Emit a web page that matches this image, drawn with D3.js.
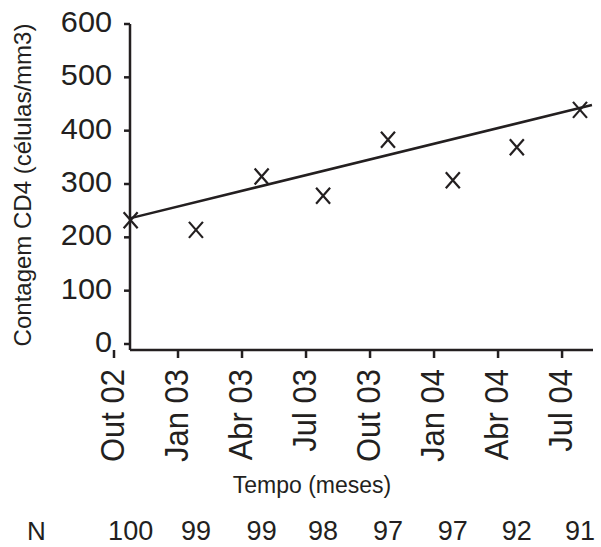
<!DOCTYPE html>
<html>
<head>
<meta charset="utf-8">
<script src="https://cdn.jsdelivr.net/npm/d3@7"></script>
<style>
  body { margin: 0; background: #fff; }
  text { font-family: "Liberation Sans", Arial, sans-serif; fill: #231f20; }
</style>
</head>
<body>
<svg id="chart" width="601" height="547"></svg>
<script>
// tick labels (months since Oct 2002)
const tickMonths = [0, 3, 6, 9, 12, 15, 18, 21];
const tickLabels = ['Out 02', 'Jan 03', 'Abr 03', 'Jul 03', 'Out 03', 'Jan 04', 'Abr 04', 'Jul 04'];
const yTicks = [0, 100, 200, 300, 400, 500, 600];

// measurements
const visitMonths = [0.78, 3.84, 6.92, 9.8, 12.84, 15.88, 18.88, 21.84];
const cd4Values = [232, 214, 314, 278, 383, 307, 369, 439];
const nValues = [100, 99, 99, 98, 97, 97, 92, 91];

// fitted line at both ends
const trendMonths = [0.78, 22.4];
const trendValues = [236, 448];

const ink = '#231f20';
const svg = d3.select('#chart');

const x = d3.scaleLinear().domain([0, 22.45]).range([114, 593]);
const y = d3.scaleLinear().domain([0, 600]).range([344, 24]);
const axisY = 350;
const axisX = 130;

// y axis
svg.append('line')
  .attr('x1', axisX).attr('x2', axisX)
  .attr('y1', y(600)).attr('y2', axisY)
  .attr('stroke', ink).attr('stroke-width', 2.5);

const yt = svg.selectAll('.ytick')
  .data(yTicks)
  .enter().append('g')
  .attr('class', 'ytick')
  .attr('transform', d => `translate(${axisX},${y(d)})`);

yt.append('line')
  .attr('x1', -6).attr('x2', 0)
  .attr('stroke', ink).attr('stroke-width', 2.5);

yt.append('text')
  .attr('transform', 'translate(-18,8) scale(1.04,1)')
  .attr('text-anchor', 'end')
  .style('font-size', '29.5px')
  .text(d => d);

// x axis
svg.append('line')
  .attr('x1', axisX).attr('x2', x.range()[1])
  .attr('y1', axisY).attr('y2', axisY)
  .attr('stroke', ink).attr('stroke-width', 2.5);

const xt = svg.selectAll('.xtick')
  .data(tickMonths)
  .enter().append('g')
  .attr('class', 'xtick')
  .attr('transform', d => `translate(${x(d)},${axisY})`);

xt.append('line')
  .attr('y1', 0).attr('y2', 8)
  .attr('stroke', ink).attr('stroke-width', 2.5);

xt.append('text')
  .attr('transform', 'translate(10,19) rotate(-90) scale(1,1.1)')
  .attr('text-anchor', 'end')
  .style('font-size', '31px')
  .text((d, i) => tickLabels[i]);

// axis titles
svg.append('text')
  .attr('transform', 'translate(31,185) rotate(-90)')
  .attr('text-anchor', 'middle')
  .style('font-size', '24px')
  .text('Contagem CD4 (células/mm3)');

svg.append('text')
  .attr('x', 312)
  .attr('y', 493)
  .attr('text-anchor', 'middle')
  .style('font-size', '23px')
  .text('Tempo (meses)');

// trend line
const line = d3.line()
  .x(d => x(d[0]))
  .y(d => y(d[1]));

svg.append('path')
  .datum(trendMonths.map((m, i) => [m, trendValues[i]]))
  .attr('d', line)
  .attr('fill', 'none')
  .attr('stroke', ink)
  .attr('stroke-width', 2.5);

// markers
const s = 7;
svg.selectAll('.pt')
  .data(visitMonths)
  .enter().append('path')
  .attr('class', 'pt')
  .attr('transform', (d, i) => `translate(${x(d)},${y(cd4Values[i])})`)
  .attr('d', `M${-s},${-s - 1}L${s},${s + 1}M${-s},${s + 1}L${s},${-s - 1}`)
  .attr('fill', 'none')
  .attr('stroke', ink)
  .attr('stroke-width', 2.2);

// N row
svg.append('text')
  .attr('x', 27)
  .attr('y', 540)
  .style('font-size', '26px')
  .text('N');

svg.selectAll('.nval')
  .data(nValues)
  .enter().append('text')
  .attr('class', 'nval')
  .attr('x', (d, i) => x(visitMonths[i]))
  .attr('y', 540)
  .attr('text-anchor', 'middle')
  .style('font-size', '27px')
  .text(d => d);
</script>
</body>
</html>
